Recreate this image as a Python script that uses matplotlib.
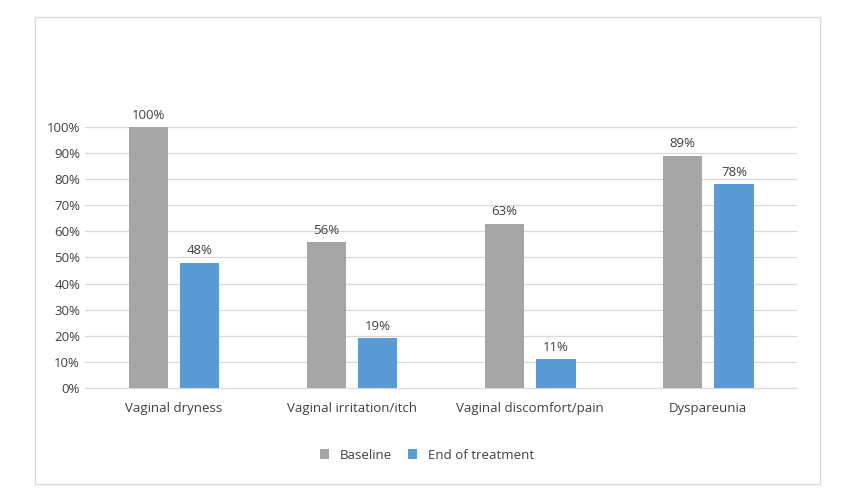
import matplotlib.pyplot as plt
import numpy as np
from matplotlib.patches import Rectangle

plt.rcParams["font.family"] = ["Open Sans", "DejaVu Sans"]

categories = ["Vaginal dryness", "Vaginal irritation/itch", "Vaginal discomfort/pain", "Dyspareunia"]
baseline = [1.00, 0.56, 0.63, 0.89]
end_treatment = [0.48, 0.19, 0.11, 0.78]
yticks = np.arange(0, 1.01, 0.1)

fig = plt.figure(figsize=(8.54, 4.98), dpi=100)
fig.patches.append(Rectangle((35 / 854, 1 - 484 / 498), 785 / 854, 467 / 498,
                             transform=fig.transFigure, fill=False, ec="#D9D9D9", lw=1))
ax = fig.add_axes([0.0995, 0.221, 0.834, 0.524])

x = np.arange(len(categories))
w = 0.22
b1 = ax.bar(x - 0.145, baseline, w, color="#A5A5A5", label="Baseline", zorder=3)
b2 = ax.bar(x + 0.145, end_treatment, w, color="#5B9BD5", label="End of treatment", zorder=3)
for bars in (b1, b2):
    for r in bars:
        ax.text(r.get_x() + r.get_width() / 2, r.get_height() + 0.02,
                f"{round(r.get_height() * 100):.0f}%", ha="center", va="bottom",
                fontsize=9.5, color="#404040")

ax.set_ylim(0, 1.0)
ax.set_xlim(-0.5, 3.5)
ax.set_yticks(yticks)
ax.set_yticklabels([f"{round(t * 100)}%" for t in yticks])
ax.set_xticks(x)
ax.set_xticklabels(categories)
ax.tick_params(length=0, labelsize=9.5, colors="#404040")
ax.tick_params(axis="x", pad=10)
ax.yaxis.grid(True, color="#D9D9D9", lw=0.9, zorder=0)
for s in ["top", "right", "left"]:
    ax.spines[s].set_visible(False)
ax.spines["bottom"].set_color("#D9D9D9")
ax.set_axisbelow(True)

fig.legend(loc="center", bbox_to_anchor=(0.5, 1 - 455 / 498), ncol=2, frameon=False,
           fontsize=9.5, handlelength=0.7, handleheight=0.7, columnspacing=1.2,
           labelcolor="#404040")

fig.savefig("out.png", dpi=100)
